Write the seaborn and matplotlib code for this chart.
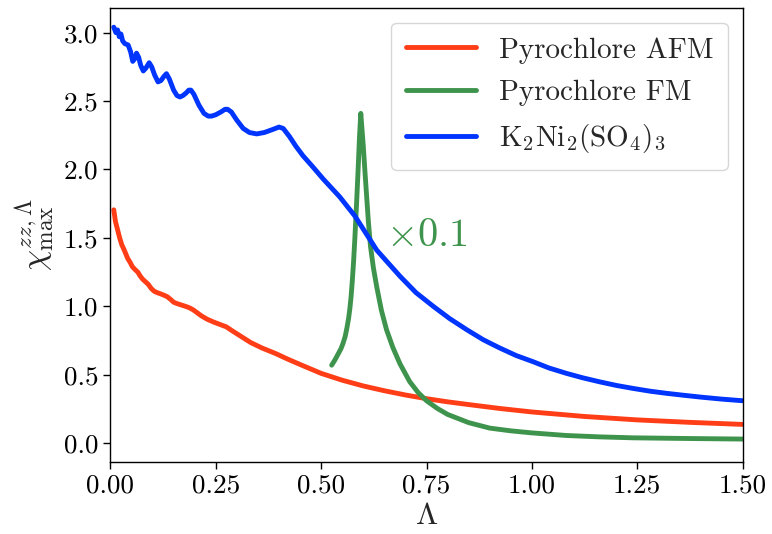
import matplotlib
matplotlib.use("Agg")
import matplotlib.pyplot as plt
import seaborn as sns
import pandas as pd

# Cutoff values (Lambda) and maximal susceptibility for each system
afm_lam = [0.008, 0.012, 0.017, 0.022, 0.027, 0.033, 0.041, 0.047, 0.052, 0.058,
           0.065, 0.071, 0.076, 0.083, 0.090, 0.097, 0.104, 0.111, 0.120, 0.128,
           0.135, 0.143, 0.150, 0.158, 0.168, 0.178, 0.187, 0.196, 0.205, 0.216,
           0.230, 0.245, 0.262, 0.275, 0.287, 0.310, 0.333, 0.360, 0.392, 0.420,
           0.450, 0.500, 0.550, 0.600, 0.650, 0.700, 0.750, 0.800, 0.850, 0.925,
           1.000, 1.125, 1.250, 1.375, 1.500]
afm_chi = [1.705, 1.62, 1.56, 1.50, 1.45, 1.41, 1.35, 1.32, 1.29, 1.27,
           1.25, 1.22, 1.20, 1.18, 1.16, 1.13, 1.11, 1.10, 1.09, 1.08,
           1.07, 1.05, 1.03, 1.02, 1.01, 1.00, 0.99, 0.975, 0.955, 0.93,
           0.905, 0.885, 0.865, 0.85, 0.825, 0.78, 0.735, 0.695, 0.655, 0.615,
           0.575, 0.51, 0.46, 0.418, 0.383, 0.352, 0.325, 0.302, 0.282, 0.253,
           0.228, 0.195, 0.17, 0.152, 0.137]

fm_lam = [0.525, 0.533, 0.540, 0.547, 0.552, 0.557, 0.561, 0.565, 0.568, 0.571,
          0.574, 0.577, 0.580, 0.584, 0.588, 0.591, 0.594, 0.600, 0.604, 0.608,
          0.612, 0.617, 0.624, 0.632, 0.643, 0.655, 0.670, 0.687, 0.710, 0.730,
          0.750, 0.775, 0.800, 0.850, 0.900, 0.950, 1.000, 1.082, 1.160, 1.240,
          1.370, 1.500]
fm_chi = [0.57, 0.61, 0.65, 0.69, 0.73, 0.78, 0.84, 0.91, 0.98, 1.07,
          1.19, 1.33, 1.50, 1.75, 2.02, 2.24, 2.41, 2.17, 1.98, 1.80,
          1.62, 1.44, 1.28, 1.14, 0.97, 0.83, 0.70, 0.58, 0.45, 0.37,
          0.31, 0.255, 0.21, 0.15, 0.11, 0.09, 0.075, 0.056, 0.046, 0.039,
          0.034, 0.030]

kni_lam = [0.008, 0.013, 0.017, 0.021, 0.025, 0.029, 0.034, 0.042, 0.048, 0.053,
           0.058, 0.062, 0.067, 0.072, 0.078, 0.084, 0.092, 0.098, 0.105, 0.113,
           0.120, 0.127, 0.133, 0.140, 0.150, 0.158, 0.165, 0.172, 0.180, 0.186,
           0.191, 0.198, 0.210, 0.222, 0.232, 0.240, 0.250, 0.262, 0.272, 0.278,
           0.287, 0.300, 0.315, 0.330, 0.347, 0.365, 0.383, 0.400, 0.410, 0.425,
           0.440, 0.457, 0.480, 0.505, 0.544, 0.580, 0.632, 0.687, 0.725, 0.766,
           0.805, 0.845, 0.885, 0.924, 0.963, 1.003, 1.040, 1.082, 1.120, 1.161,
           1.200, 1.240, 1.280, 1.320, 1.360, 1.399, 1.450, 1.500]
kni_chi = [3.04, 3.00, 3.02, 2.97, 2.99, 2.94, 2.92, 2.91, 2.86, 2.79,
           2.81, 2.85, 2.82, 2.76, 2.72, 2.74, 2.78, 2.75, 2.69, 2.64,
           2.65, 2.68, 2.70, 2.66, 2.58, 2.54, 2.53, 2.54, 2.56, 2.58,
           2.58, 2.55, 2.47, 2.41, 2.39, 2.39, 2.40, 2.42, 2.44, 2.44,
           2.42, 2.36, 2.30, 2.27, 2.26, 2.27, 2.29, 2.31, 2.30, 2.24,
           2.17, 2.10, 2.02, 1.93, 1.80, 1.66, 1.41, 1.22, 1.10, 1.00,
           0.91, 0.83, 0.755, 0.695, 0.64, 0.595, 0.55, 0.51, 0.478, 0.448,
           0.422, 0.40, 0.38, 0.364, 0.35, 0.337, 0.322, 0.31]

series_names = ["Pyrochlore AFM", "Pyrochlore FM", r"K$_2$Ni$_2$(SO$_4$)$_3$"]
series_colors = ["#ff3d16", "#3e944c", "#0034ff"]
x_ticks = [0.00, 0.25, 0.50, 0.75, 1.00, 1.25, 1.50]
y_ticks = [0.0, 0.5, 1.0, 1.5, 2.0, 2.5, 3.0]

sns.set_style("ticks")
plt.rcParams.update({
    "font.family": "serif",
    "font.serif": ["cmr10"],
    "mathtext.fontset": "cm",
    "axes.formatter.use_mathtext": True,
    "axes.unicode_minus": False,
    "axes.edgecolor": "black",
    "axes.linewidth": 1.0,
    "xtick.color": "black",
    "ytick.color": "black",
})

fig = plt.figure(figsize=(7.72, 5.34), dpi=100)
ax = fig.add_axes([0.143, 0.135, 0.819, 0.85])

frames = [
    pd.DataFrame({"lam": afm_lam, "chi": afm_chi}),
    pd.DataFrame({"lam": fm_lam, "chi": fm_chi}),
    pd.DataFrame({"lam": kni_lam, "chi": kni_chi}),
]
for df, name, col in zip(frames, series_names, series_colors):
    sns.lineplot(data=df, x="lam", y="chi", ax=ax, color=col, lw=3.5,
                 label=name, sort=False)

ax.text(0.655, 1.51, r"$\times 0.1$", color=series_colors[1], fontsize=29,
        va="center", ha="left")

ax.set_xlim(0, 1.5)
ax.set_ylim(-0.137, 3.18)
ax.set_xticks(x_ticks)
ax.set_yticks(y_ticks)
ax.set_xticklabels([f"{t:.2f}" for t in x_ticks])
ax.set_yticklabels([f"{t:.1f}" for t in y_ticks])
ax.tick_params(labelsize=19.5, length=5, width=1)
ax.set_xlabel(r"$\Lambda$", fontsize=23, labelpad=4)
ax.set_ylabel(r"$\chi^{zz,\Lambda}_{\mathrm{max}}$", fontsize=24, labelpad=5)
for s in ax.spines.values():
    s.set_visible(True)
    s.set_color("black")

ax.legend(loc="upper right", fontsize=21, frameon=True, fancybox=True,
          framealpha=0.8, edgecolor="#cccccc", handlelength=2.4,
          handletextpad=0.8, borderpad=0.5, labelspacing=0.55)

fig.savefig("out.png", dpi=100)
